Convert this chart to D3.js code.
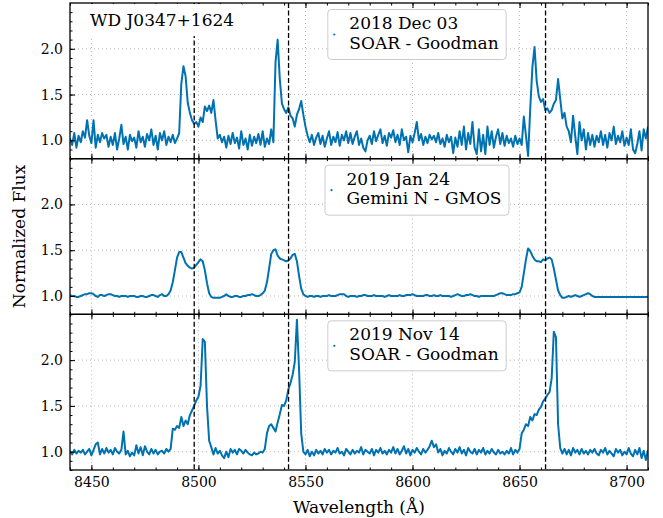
<!DOCTYPE html>
<html>
  <head>
    <meta charset="utf-8">
    <style>
      body { margin: 0; background: #fff; }
      text { font-family: "DejaVu Serif", "Liberation Serif", serif; fill: #000; }
    </style>
    <script src="https://d3js.org/d3.v7.min.js"></script>
  </head>
  <body>
    <svg></svg>
    <script>
    // wavelength grid of the three spectra (1 A steps)
    var wave = d3.range(8440, 8711);

    // 2018 Dec 03, SOAR - Goodman
    var fluxDec18 = [
      1.02,0.95,1.08,0.92,1.05,0.98,1.10,1.03,1.22,1.05, 0.97,1.22,0.92,1.06,0.98,1.08,1.02,1.06,0.93,1.04,
      0.95,1.08,0.90,1.02,1.17,0.96,1.04,0.90,1.06,0.99, 1.03,0.92,1.10,0.98,1.04,0.93,1.07,1.00,1.12,0.95,
      1.05,0.90,1.08,1.00,1.10,0.95,1.04,0.98,1.06,0.97, 1.02,1.08,1.62,1.81,1.70,1.41,1.30,1.22,1.18,1.20,
      1.15,1.25,1.20,1.37,1.32,1.38,1.30,1.44,1.22,1.02, 1.06,0.98,1.04,0.92,1.05,0.96,1.08,0.97,1.03,0.91,
      1.10,0.95,1.02,0.90,1.06,0.94,1.04,0.97,1.07,0.95, 1.10,0.93,1.02,0.96,1.12,0.98,1.85,2.10,1.67,1.40,
      1.34,1.30,1.36,1.27,1.24,1.15,1.28,1.34,1.43,1.28, 1.15,1.05,0.98,1.06,0.95,1.03,1.08,0.96,1.05,0.93,
      1.02,1.10,0.95,1.04,0.98,1.09,0.94,1.06,1.00,1.10, 0.97,1.08,0.96,1.04,1.10,0.95,1.02,0.92,0.88,1.00,
      1.05,0.96,1.10,0.99,1.06,1.12,0.97,1.05,0.94,1.08, 1.03,1.11,0.98,1.06,0.95,1.12,1.00,1.04,0.87,1.05,
      0.98,1.08,1.20,1.00,1.07,0.95,1.04,0.97,1.06,1.01, 1.05,0.98,1.08,0.96,1.02,0.93,1.06,0.98,1.04,0.86,
      1.03,0.93,1.10,0.95,1.15,0.90,1.08,0.96,1.20,0.92, 0.85,1.12,0.88,1.06,0.85,1.15,0.95,1.10,0.92,1.04,
      1.12,0.96,1.08,0.94,1.05,0.97,1.02,0.93,1.05,0.96, 1.02,0.95,1.26,1.05,0.83,1.35,1.80,2.02,1.65,1.48,
      1.42,1.45,1.33,1.35,1.30,1.33,1.40,1.44,1.67,1.45, 1.24,1.30,1.15,1.10,0.98,1.27,1.05,0.85,1.20,1.00,
      1.12,0.90,1.08,0.95,1.06,0.93,1.05,0.98,1.10,0.95, 1.06,0.92,1.08,1.00,1.15,0.96,1.05,0.98,1.10,0.94,
      1.03,0.95,1.12,0.90,0.86,0.96,1.10,0.89,1.12,1.02, 1.15
    ];

    // 2019 Jan 24, Gemini N - GMOS
    var fluxJan19 = [
      1.01,1.00,1.00,0.99,0.99,1.00,1.01,1.02,1.02,1.03, 1.03,1.02,1.00,0.99,1.01,1.01,1.00,1.01,1.02,1.02,
      1.01,1.00,1.00,0.99,1.00,1.00,1.00,0.99,1.00,1.00, 1.00,0.99,0.99,1.00,1.00,0.99,0.99,1.00,1.01,1.01,
      1.00,0.99,1.01,1.02,1.00,1.00,1.02,1.06,1.15,1.28, 1.42,1.48,1.48,1.42,1.36,1.33,1.31,1.30,1.31,1.34,
      1.37,1.40,1.38,1.28,1.14,1.03,0.99,0.98,0.98,0.98, 0.98,0.99,1.00,1.02,1.00,0.99,0.99,1.00,1.00,0.99,
      0.99,1.00,1.00,1.01,1.01,1.02,1.01,1.00,1.00,1.01, 1.03,1.06,1.15,1.30,1.46,1.50,1.51,1.44,1.41,1.40,
      1.39,1.38,1.39,1.41,1.45,1.46,1.38,1.22,1.08,1.02, 1.00,0.99,1.00,1.00,0.99,1.00,1.00,0.99,1.00,1.00,
      1.00,1.01,1.00,1.00,1.00,1.01,1.02,1.02,1.02,1.00, 0.99,1.00,1.00,1.00,0.99,1.00,1.00,1.01,1.01,1.00,
      1.00,1.00,1.01,1.00,1.00,1.00,1.00,0.99,1.00,1.01, 1.00,1.00,1.00,1.00,1.01,1.00,1.00,1.01,1.01,1.01,
      1.02,1.01,1.00,1.00,1.00,1.00,1.01,1.01,1.00,1.00, 1.01,1.00,1.00,1.01,1.00,1.00,1.00,1.00,0.99,1.00,
      1.01,1.02,1.01,1.00,1.00,1.01,1.01,1.02,1.01,1.00, 1.00,0.99,1.00,1.00,1.00,1.00,1.00,1.00,1.00,1.01,
      1.02,1.03,1.03,1.02,1.01,1.01,1.01,1.02,1.02,1.03, 1.04,1.10,1.25,1.40,1.52,1.49,1.44,1.40,1.38,1.38,
      1.37,1.40,1.39,1.41,1.42,1.40,1.30,1.18,1.06,1.01, 0.98,0.98,0.99,1.00,0.99,1.00,1.01,1.00,0.99,1.00,
      1.01,1.02,1.03,1.02,1.00,0.99,0.99,0.99,0.99,0.99, 0.99,0.99,0.99,0.99,0.99,0.99,0.99,0.99,0.99,0.99,
      0.99,0.99,0.99,0.99,0.99,0.99,0.99,0.99,0.99,0.99, 0.99
    ];

    // 2019 Nov 14, SOAR - Goodman
    var fluxNov19 = [
      1.00,0.97,1.02,0.98,1.01,0.99,1.02,0.97,1.00,1.03, 0.96,1.02,1.08,1.10,0.97,1.03,0.98,1.04,0.99,1.02,
      0.97,1.04,1.00,0.98,1.02,1.22,0.97,1.01,0.95,0.99, 0.96,1.07,0.98,1.05,0.96,1.06,1.00,0.97,1.03,0.98,
      1.02,0.97,1.00,1.01,0.98,1.03,1.00,1.03,1.25,1.24, 1.28,1.26,1.38,1.28,1.34,1.30,1.40,1.45,1.50,1.56,
      1.60,1.72,2.23,2.20,1.50,1.12,1.05,0.97,1.04,0.98, 1.01,0.96,0.93,1.00,0.94,1.03,0.99,1.02,0.97,1.03,
      1.01,0.98,1.02,0.99,0.97,0.96,0.99,0.97,0.98,1.00, 0.99,1.03,1.20,1.28,1.30,1.26,1.22,1.32,1.41,1.51,
      1.50,1.56,1.68,1.75,1.84,1.98,2.44,1.90,1.20,1.00, 0.97,1.02,0.95,1.00,0.96,1.02,0.98,1.01,0.97,1.03,
      0.99,1.02,0.97,1.01,0.99,1.04,0.98,1.00,0.96,1.03, 1.00,0.97,1.02,0.98,1.01,0.99,1.05,0.97,1.02,1.00,
      0.98,1.03,0.96,1.02,0.99,1.04,0.98,1.01,0.97,1.02, 0.99,1.05,0.98,1.03,0.97,1.01,1.06,0.98,1.03,0.96,
      1.02,0.99,1.04,1.00,0.97,1.03,0.99,1.02,1.06,1.12, 1.05,1.08,0.99,1.03,0.96,1.01,0.98,1.04,1.00,0.97,
      1.03,0.99,1.05,0.98,1.02,0.96,1.04,1.00,0.98,1.03, 0.97,1.02,0.99,1.04,0.97,1.01,0.98,1.03,0.99,0.97,
      1.02,0.98,1.00,0.97,1.01,0.98,1.04,0.97,1.02,0.99, 1.03,1.20,1.24,1.30,1.28,1.38,1.34,1.41,1.40,1.46,
      1.49,1.55,1.58,1.62,1.65,1.80,2.31,2.25,1.30,1.04, 0.98,1.03,0.97,1.02,0.96,1.04,0.99,1.02,0.97,1.03,
      0.98,1.01,0.97,1.02,0.99,1.03,0.98,0.96,1.02,0.99, 1.04,0.97,1.01,0.98,0.95,1.03,0.99,1.02,0.96,1.00,
      0.97,1.04,0.98,0.95,1.02,0.97,1.04,0.93,1.01,0.91, 1.02
    ];

    var legendLines = [
      ["2018 Dec 03", "SOAR - Goodman"],
      ["2019 Jan 24", "Gemini N - GMOS"],
      ["2019 Nov 14", "SOAR - Goodman"]
    ];

    // Ca II triplet rest wavelengths
    var caLines = [8498.02, 8542.09, 8662.14];

    var xMajor = [8450, 8500, 8550, 8600, 8650, 8700];
    var xMinor = d3.range(8440, 8711, 10);
    var yMajor = [1.0, 1.5, 2.0];
    var yMinor = d3.range(8, 25).map(function(d) { return d / 10; });

    var width = 663;
    var height = 518;
    var left = 70, right = 648, top0 = 3, bottom = 470;
    var ph = (bottom - top0) / 3;
    var blue = "#0072b2";
    var serif = "'DejaVu Serif', 'Liberation Serif', serif";

    var svg = d3.select("svg")
        .attr("width", width)
        .attr("height", height)
        .style("font-family", serif);

    var x = d3.scaleLinear()
        .domain([8440, 8710])
        .range([left, right]);

    var panels = [fluxDec18, fluxJan19, fluxNov19];

    panels.forEach(function(flux, i) {
        var top = top0 + i * ph;
        var y = d3.scaleLinear()
            .domain([0.8, 2.5])
            .range([top + ph, top]);

        var g = svg.append("g");

        svg.append("clipPath")
            .attr("id", "clip" + i)
          .append("rect")
            .attr("x", left).attr("y", top)
            .attr("width", right - left).attr("height", ph);

        // dotted grid
        g.selectAll(".gx").data(xMajor).enter().append("line")
            .attr("x1", function(d) { return x(d); })
            .attr("x2", function(d) { return x(d); })
            .attr("y1", top).attr("y2", top + ph)
            .attr("stroke", "#b8b8b8")
            .attr("stroke-width", 1)
            .attr("stroke-dasharray", "1,3");
        g.selectAll(".gy").data(yMajor).enter().append("line")
            .attr("x1", left).attr("x2", right)
            .attr("y1", function(d) { return y(d); })
            .attr("y2", function(d) { return y(d); })
            .attr("stroke", "#b8b8b8")
            .attr("stroke-width", 1)
            .attr("stroke-dasharray", "1,3");

        var line = d3.line()
            .x(function(d, j) { return x(wave[j]); })
            .y(function(d) { return y(d); });

        g.append("path")
            .datum(flux)
            .attr("clip-path", "url(#clip" + i + ")")
            .attr("fill", "none")
            .attr("stroke", blue)
            .attr("stroke-width", 2)
            .attr("stroke-linejoin", "round")
            .attr("d", line);

        g.selectAll(".ca").data(caLines).enter().append("line")
            .attr("x1", function(d) { return x(d); })
            .attr("x2", function(d) { return x(d); })
            .attr("y1", top).attr("y2", top + ph)
            .attr("stroke", "#000")
            .attr("stroke-width", 1.3)
            .attr("stroke-dasharray", "5,2.5");

        // inward ticks, bottom and top
        var bx = g.append("g")
            .attr("transform", "translate(0," + (top + ph) + ")")
            .call(d3.axisBottom(x).tickValues(xMajor).tickSizeInner(-5).tickSizeOuter(0).tickPadding(7)
                .tickFormat(i == 2 ? d3.format("d") : ""));
        bx.append("g").call(d3.axisBottom(x).tickValues(xMinor).tickSizeInner(-2.5).tickSizeOuter(0).tickFormat(""));
        var tx = g.append("g")
            .attr("transform", "translate(0," + top + ")")
            .call(d3.axisTop(x).tickValues(xMajor).tickSizeInner(-5).tickSizeOuter(0).tickFormat(""));
        tx.append("g").call(d3.axisTop(x).tickValues(xMinor).tickSizeInner(-2.5).tickSizeOuter(0).tickFormat(""));

        var ly = g.append("g")
            .attr("transform", "translate(" + left + ",0)")
            .call(d3.axisLeft(y).tickValues(yMajor).tickSizeInner(-5).tickSizeOuter(0).tickPadding(7)
                .tickFormat(d3.format(".1f")));
        ly.append("g").call(d3.axisLeft(y).tickValues(yMinor).tickSizeInner(-2.5).tickSizeOuter(0).tickFormat(""));

        g.selectAll(".domain").remove();
        g.selectAll("g").attr("font-family", serif);
        g.selectAll(".tick line").attr("stroke", "#000").attr("stroke-width", 1);
        g.selectAll(".tick text")
            .style("font-family", serif)
            .attr("font-size", 14)
            .attr("fill", "#000");

        g.append("rect")
            .attr("x", left).attr("y", top)
            .attr("width", right - left).attr("height", ph)
            .attr("fill", "none")
            .attr("stroke", "#000")
            .attr("stroke-width", 1.3);

        // legend
        var lg = g.append("g");
        var box = lg.append("rect");
        var boxTop = top + 6.5;
        var texts = lg.selectAll("text").data(legendLines[i]).enter().append("text")
            .style("font-family", serif)
            .attr("font-size", 17)
            .attr("y", function(d, k) { return boxTop + 19.5 + k * 19.8; })
            .text(function(d) { return d; });
        var tw = d3.max(texts.nodes(), function(n) { return n.getComputedTextLength(); });
        var bw = tw + 29;
        var bl = 417 - bw / 2;
        texts.attr("x", bl + 21.5);
        box.attr("x", bl).attr("y", boxTop)
            .attr("width", bw).attr("height", 50)
            .attr("rx", 3.5)
            .attr("fill", "#fff").attr("fill-opacity", 0.85)
            .attr("stroke", "#cccccc").attr("stroke-width", 1);
        lg.append("circle")
            .attr("cx", bl + 6.5).attr("cy", boxTop + 25)
            .attr("r", 1.1)
            .attr("fill", blue);
    });

    // star name, on a white patch
    svg.append("rect")
        .attr("x", 84).attr("y", 4)
        .attr("width", 158).attr("height", 32)
        .attr("fill", "#fff");
    svg.append("text")
        .attr("x", 90)
        .attr("y", 26)
        .style("font-family", serif)
        .attr("font-size", 17)
        .text("WD J0347+1624");

    svg.append("text")
        .attr("transform", "translate(25," + ((top0 + bottom) / 2) + ") rotate(-90)")
        .attr("text-anchor", "middle")
        .style("font-family", serif)
        .attr("font-size", 17)
        .text("Normalized Flux");

    svg.append("text")
        .attr("x", (left + right) / 2)
        .attr("y", 513)
        .attr("text-anchor", "middle")
        .style("font-family", serif)
        .attr("font-size", 17)
        .text("Wavelength (Å)");
    </script>
  </body>
</html>
